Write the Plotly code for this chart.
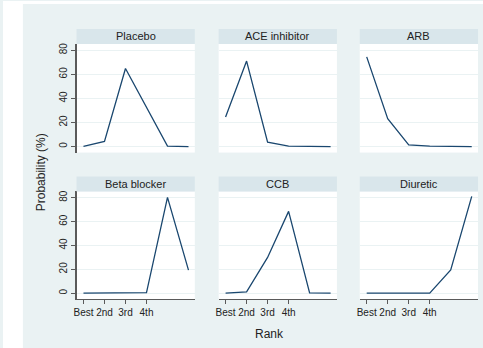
import plotly.graph_objects as go

W, H = 483, 348

ranks = [1, 2, 3, 4, 5, 6]
rank_ticks = [1, 2, 3, 4]
rank_labels = ["Best", "2nd", "3rd", "4th"]

titles = ["Placebo", "ACE inhibitor", "ARB", "Beta blocker", "CCB", "Diuretic"]
placebo = [0.2, 4.2, 64.8, 32.0, 0.4, 0.0]
ace_inhibitor = [24.6, 71.0, 3.6, 0.3, 0.1, 0.0]
arb = [74.5, 23.2, 1.4, 0.3, 0.1, 0.0]
beta_blocker = [0.0, 0.0, 0.0, 0.5, 80.3, 19.3]
ccb = [0.0, 1.1, 30.0, 68.6, 0.2, 0.0]
diuretic = [0.0, 0.0, 0.0, 0.0, 19.5, 81.2]
series = [placebo, ace_inhibitor, arb, beta_blocker, ccb, diuretic]

y_ticks = [0, 20, 40, 60, 80]

BG = "#eaf2f3"
STRIP = "#d9e6eb"
LINE = "#1a476f"
AX = "#5a5a5a"
FONT = "Liberation Sans, Arial, sans-serif"

# pixel layout
cols_px = [(74, 193), (217, 336), (359, 478)]
rows_px = [(43, 152), (191, 299)]
strip_px = [(28, 43), (176, 191)]


def fx(px):
    return px / W


def fy(py):
    return 1 - py / H


fig = go.Figure()
layout = dict(
    width=W, height=H,
    margin=dict(l=0, r=0, t=0, b=0),
    paper_bgcolor=BG,
    plot_bgcolor="white",
    showlegend=False,
    font=dict(family=FONT, color="#222222"),
)
shapes = [dict(type="rect", xref="paper", yref="paper", x0=0, x1=fx(20), y0=0, y1=1,
               fillcolor="white", line=dict(width=0), layer="below"),
          dict(type="rect", xref="paper", yref="paper", x0=0, x1=1, y0=fy(3), y1=1,
               fillcolor="white", line=dict(width=0), layer="below")]
annotations = []

for i, (title, vals) in enumerate(zip(titles, series)):
    r, c = divmod(i, 3)
    n = i + 1
    xa = "x" if n == 1 else f"x{n}"
    ya = "y" if n == 1 else f"y{n}"
    fig.add_trace(go.Scatter(x=ranks, y=vals, mode="lines", xaxis=xa, yaxis=ya,
                             line=dict(color=LINE, width=1.3), hoverinfo="skip"))
    x0, x1 = cols_px[c]
    y0, y1 = rows_px[r]
    bottom = r == 1
    left = c == 0
    layout["xaxis" if n == 1 else f"xaxis{n}"] = dict(
        domain=[fx(x0), fx(x1)], anchor=ya, range=[0.67, 6.3],
        tickvals=rank_ticks, ticktext=rank_labels,
        showticklabels=bottom, ticks="outside" if bottom else "",
        ticklen=4, tickcolor=AX, tickwidth=1,
        showline=bottom, linecolor=AX, linewidth=1,
        showgrid=False, zeroline=False,
        tickfont=dict(size=10, family=FONT, color="#222222"),
    )
    layout["yaxis" if n == 1 else f"yaxis{n}"] = dict(
        domain=[fy(y1), fy(y0)], anchor=xa, range=[-5, 85.3],
        tickvals=y_ticks, showticklabels=left, ticks="outside" if left else "",
        ticklen=4, tickcolor=AX, tickwidth=1, tickangle=-90,
        showline=left, linecolor=AX, linewidth=2,
        showgrid=True, gridcolor=BG, gridwidth=1, zeroline=False,
        tickfont=dict(size=10, family=FONT, color="#222222"),
    )
    sy0, sy1 = strip_px[r]
    shapes.append(dict(type="rect", xref="paper", yref="paper",
                       x0=fx(x0), x1=fx(x1), y0=fy(sy1), y1=fy(sy0),
                       fillcolor=STRIP, line=dict(width=0)))
    annotations.append(dict(text=title, xref="paper", yref="paper",
                            x=fx((x0 + x1) / 2), y=fy((sy0 + sy1) / 2),
                            xanchor="center", yanchor="middle", showarrow=False,
                            font=dict(size=11, family=FONT, color="#222222")))

annotations.append(dict(text="Probability (%)", xref="paper", yref="paper",
                        x=fx(38), y=fy(172), textangle=-90, showarrow=False,
                        xanchor="center", yanchor="middle",
                        font=dict(size=12, family=FONT, color="#222222")))
annotations.append(dict(text="Rank", xref="paper", yref="paper",
                        x=fx(268), y=fy(334), showarrow=False,
                        xanchor="center", yanchor="middle",
                        font=dict(size=12, family=FONT, color="#222222")))

layout["shapes"] = shapes
layout["annotations"] = annotations
fig.update_layout(**layout)
fig.write_html("out.html")
